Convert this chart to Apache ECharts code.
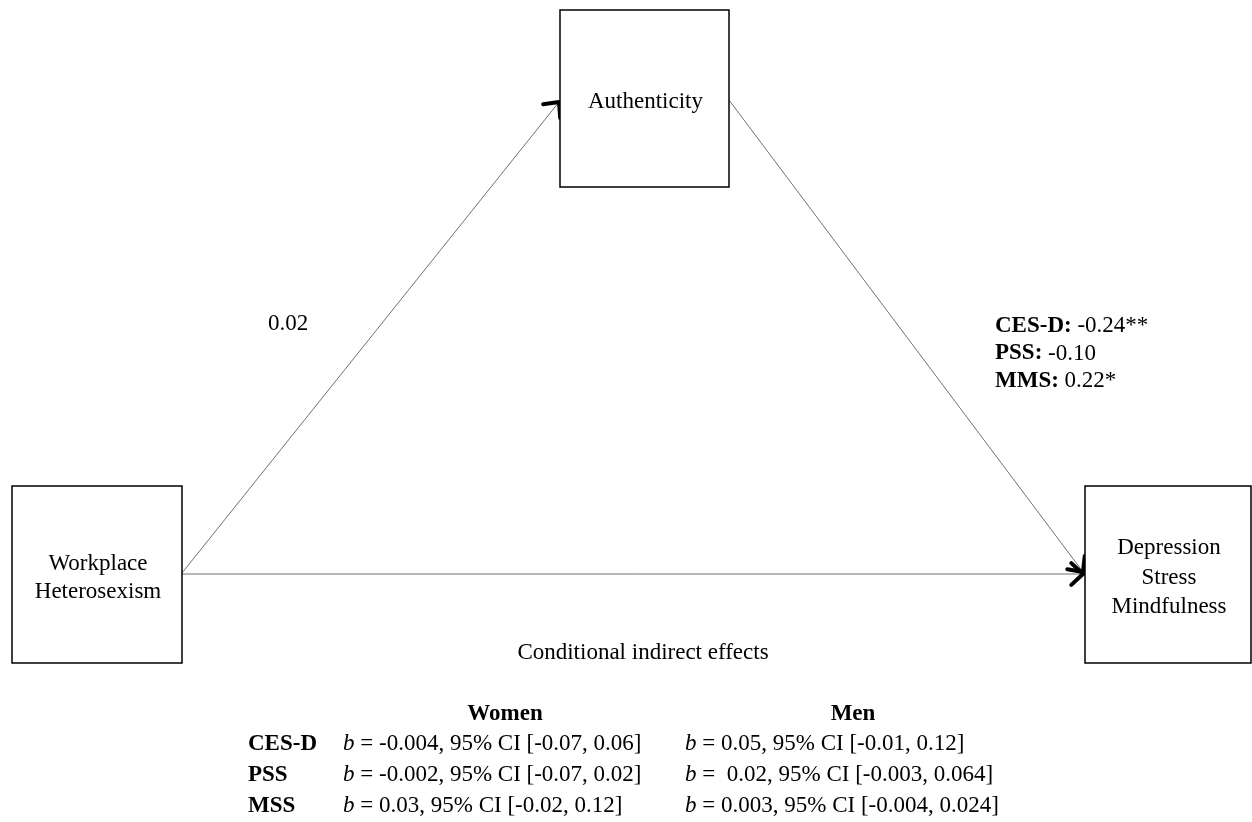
<!DOCTYPE html>
<html><head><meta charset="utf-8">
<script src="https://cdn.jsdelivr.net/npm/echarts@6/dist/echarts.min.js"></script>
<style>html,body{margin:0;padding:0;background:#fff}#c{width:1252px;height:822px}</style>
</head><body><div id="c"></div>
<script>
// Nodes: [x1, y1, x2, y2] in diagram units, with labels
const nodeNames = ['Authenticity', 'Workplace\nHeterosexism', 'Depression\nStress\nMindfulness'];
const nodeBoxes = [[560, 10, 729, 187], [12, 486, 182, 663], [1085, 486, 1251, 663]];
// Paths: [x1, y1, x2, y2]
const paths = [[182, 573, 559, 102], [729, 100, 1083, 572], [182, 574, 1083, 574]];
const pathA = '0.02';
const pathBLabels = ['CES-D:', 'PSS:', 'MMS:'];
const pathBValues = [' -0.24**', ' -0.10', ' 0.22*'];
const tableTitle = 'Conditional indirect effects';
const groups = ['Women', 'Men'];
const measures = ['CES-D', 'PSS', 'MSS'];
const womenEffects = [' = -0.004, 95% CI [-0.07, 0.06]', ' = -0.002, 95% CI [-0.07, 0.02]', ' = 0.03, 95% CI [-0.02, 0.12]'];
const menEffects = [' = 0.05, 95% CI [-0.01, 0.12]', ' =  0.02, 95% CI [-0.003, 0.064]', ' = 0.003, 95% CI [-0.004, 0.024]'];

const FONT = '"Liberation Serif", "Times New Roman", serif';
const FS = 23;
const chart = echarts.init(document.getElementById('c'));

const graphics = [];
graphics.push({type:'text', x: 288, y: 324, style:{text: pathA, font: FS + 'px ' + FONT, fill:'#000', textAlign:'center', textVerticalAlign:'middle'}});
pathBLabels.forEach((l, i) => {
  graphics.push({type:'text', x: 995, y: 326 + i * 27.5, style:{text: '{b|' + l + '}{n|' + pathBValues[i] + '}', rich:{b:{fontFamily: FONT, fontSize: FS, fontWeight:'bold', fill:'#000'}, n:{fontFamily: FONT, fontSize: FS, fill:'#000'}}, textVerticalAlign:'middle'}});
});
graphics.push({type:'text', x: 643, y: 653, style:{text: tableTitle, font: FS + 'px ' + FONT, fill:'#000', textAlign:'center', textVerticalAlign:'middle'}});
const colCenters = [505, 853];
groups.forEach((g, i) => {
  graphics.push({type:'text', x: colCenters[i], y: 714, style:{text: g, font: 'bold ' + FS + 'px ' + FONT, fill:'#000', textAlign:'center', textVerticalAlign:'middle'}});
});
const rich = {i:{fontFamily: FONT, fontSize: FS, fontStyle:'italic', fill:'#000'}, n:{fontFamily: FONT, fontSize: FS, fill:'#000'}};
measures.forEach((m, r) => {
  const y = 744 + r * 31;
  graphics.push({type:'text', x: 248, y: y, style:{text: m, font: 'bold ' + FS + 'px ' + FONT, fill:'#000', textVerticalAlign:'middle'}});
  graphics.push({type:'text', x: 343, y: y, style:{text: '{i|b}{n|' + womenEffects[r] + '}', rich: rich, textVerticalAlign:'middle'}});
  graphics.push({type:'text', x: 685, y: y, style:{text: '{i|b}{n|' + menEffects[r] + '}', rich: rich, textVerticalAlign:'middle'}});
});

chart.setOption({
  animation: false,
  grid: {left: 0, right: 0, top: 0, bottom: 0},
  xAxis: {type: 'value', min: 0, max: 1252, show: false},
  yAxis: {type: 'value', min: 0, max: 822, inverse: true, show: false},
  graphic: graphics,
  series: [
    {
      type: 'custom', silent: true,
      data: paths,
      renderItem: function (params, api) {
        const p1 = api.coord([api.value(0), api.value(1)]);
        const p2 = api.coord([api.value(2), api.value(3)]);
        const ang = Math.atan2(p2[1] - p1[1], p2[0] - p1[0]);
        const L = 16, spread = 0.75;
        const a1 = [p2[0] - L * Math.cos(ang - spread), p2[1] - L * Math.sin(ang - spread)];
        const a2 = [p2[0] - L * Math.cos(ang + spread), p2[1] - L * Math.sin(ang + spread)];
        return {type: 'group', children: [
          {type: 'line', shape: {x1: p1[0], y1: p1[1], x2: p2[0], y2: p2[1]}, style: {stroke: '#707070', lineWidth: 1}},
          {type: 'polyline', shape: {points: [a1, p2, a2]}, style: {stroke: '#000', lineWidth: 4, fill: null, lineCap: 'round', lineJoin: 'round'}}
        ]};
      }
    },
    {
      type: 'custom', silent: true,
      data: nodeBoxes.map((b, i) => b.concat([i])),
      renderItem: function (params, api) {
        const p1 = api.coord([api.value(0), api.value(1)]);
        const p2 = api.coord([api.value(2), api.value(3)]);
        const name = nodeNames[params.dataIndex];
        return {type: 'group', children: [
          {type: 'rect', shape: {x: p1[0], y: p1[1], width: p2[0] - p1[0], height: p2[1] - p1[1]}, style: {fill: '#fff', stroke: '#000', lineWidth: 1.5}},
          {type: 'text', x: (p1[0] + p2[0]) / 2 + 1, y: (p1[1] + p2[1]) / 2 + 3,
           style: {text: name, font: FS + 'px ' + FONT, fill: '#000', textAlign: 'center', textVerticalAlign: 'middle', lineHeight: params.dataIndex === 2 ? 29.5 : 28}}
        ]};
      }
    }
  ]
});
</script></body></html>
